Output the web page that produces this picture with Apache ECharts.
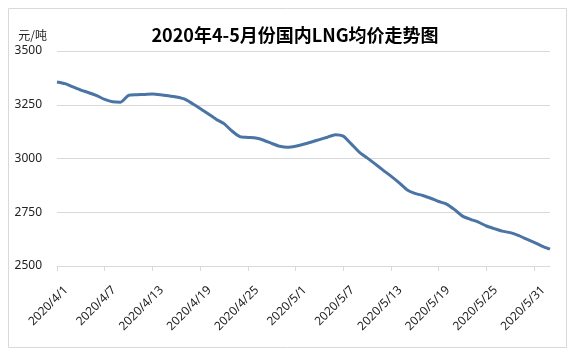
<!DOCTYPE html>
<html><head><meta charset="utf-8">
<script src="https://cdn.jsdelivr.net/npm/echarts@6/dist/echarts.min.js"></script>
<style>html,body{margin:0;padding:0;background:#fff}#c{width:576px;height:355px}</style>
</head><body><div id="c"></div>
<script>
const titleText = '2020年4-5月份国内LNG均价走势图';
const unitText = '元/吨';
const yTicks = [2500, 2750, 3000, 3250, 3500];
// dates 2020/4/1 .. 2020/6/2
const dates = [];
(function(){
  const mDays = {4:30, 5:31, 6:2};
  for (const m of [4,5,6]) for (let d=1; d<=mDays[m]; d++) dates.push('2020/'+m+'/'+d);
})();
const prices = [
  3356,3348,3333,3318,3306,3292,3275,3264,3262,3294,
  3297,3298,3300,3297,3292,3286,3277,3256,3233,3208,
  3183,3162,3128,3102,3098,3095,3085,3070,3057,3052,
  3057,3066,3077,3088,3099,3111,3104,3068,3030,3003,
  2975,2946,2918,2888,2855,2838,2828,2815,2800,2788,
  2762,2732,2717,2704,2686,2674,2662,2655,2642,2626,
  2610,2593,2578
];

const chart = echarts.init(document.getElementById('c'));
chart.setOption({
  animation: false,
  textStyle: {fontFamily: 'Noto Sans CJK SC, Noto Sans, sans-serif'},
  graphic: [{
    type: 'rect', silent: true,
    shape: {x: 8.5, y: 8.5, width: 558, height: 339},
    style: {fill: 'none', stroke: '#d9d9d9', lineWidth: 1}
  }],
  title: {
    text: titleText, left: 290, top: 21, textAlign: 'center',
    textStyle: {fontSize: 18, fontWeight: 'bold', color: '#000', fontFamily: 'Noto Sans CJK SC'}
  },
  grid: {left: 57, right: 26, top: 51, bottom: 89, containLabel: false},
  xAxis: {
    type: 'category', data: dates, boundaryGap: false,
    axisLine: {lineStyle: {color: '#d9d9d9'}},
    axisTick: {show: true, interval: 5, length: 5, lineStyle: {color: '#d9d9d9'}},
    axisLabel: {interval: 5, rotate: 45, fontSize: 12, color: '#222', margin: 13, verticalAlign: 'top', padding: [7, 0, 0, 0], fontFamily: 'Noto Sans, sans-serif'},
    splitLine: {show: false}
  },
  yAxis: {
    type: 'value', min: yTicks[0], max: yTicks[yTicks.length-1], interval: 250,
    name: unitText, nameLocation: 'end', nameGap: 10,
    nameTextStyle: {fontSize: 12, color: '#222', align: 'right', padding: [0, 10, 0, 0]},
    axisLine: {show: false}, axisTick: {show: false},
    axisLabel: {fontSize: 12, color: '#222', margin: 15, fontFamily: 'Noto Sans, sans-serif', formatter: v => String(v)},
    splitLine: {lineStyle: {color: '#d9d9d9', width: 1}}
  },
  series: [{
    type: 'line', data: prices, symbol: 'none', smooth: 0.2,
    lineStyle: {color: '#4a74a4', width: 3}
  }]
});
</script></body></html>
